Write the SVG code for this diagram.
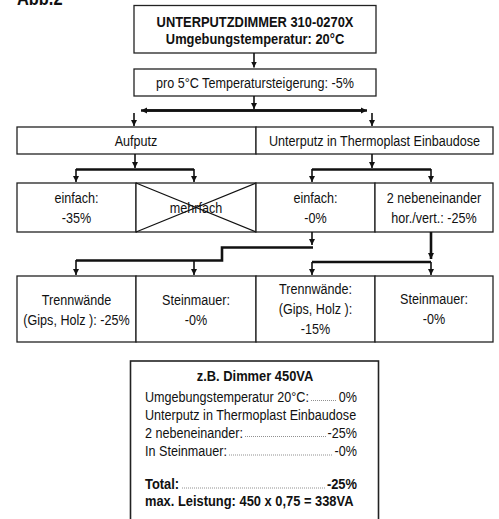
<svg xmlns="http://www.w3.org/2000/svg" width="499" height="519" viewBox="0 0 499 519">
<style>
text{font-family:"Liberation Sans",Arial,sans-serif;font-size:15px;fill:#111}
.c{text-anchor:middle}
.e{text-anchor:end}
.b{font-weight:bold}
.box{fill:#fff;stroke:#222;stroke-width:1.3}
.ar{fill:none;stroke:#111;stroke-width:1.6;marker-end:url(#ah)}
.th{fill:none;stroke:#111;stroke-width:2.6}
.dots{stroke:#333;stroke-width:0.8;stroke-dasharray:0.7 1.3}
</style>
<defs>
<marker id="ah" markerUnits="userSpaceOnUse" markerWidth="7" markerHeight="7" refX="6" refY="3.5" orient="auto-start-reverse">
<path d="M0,0.5 L6,3.5 L0,6.5 z" fill="#111"/>
</marker>
</defs>
<rect width="499" height="519" fill="#fff"/>
<text transform="translate(17,5) scale(.82,1)" class="b" style="font-size:20px">Abb.2</text>

<g id="n-dimmer">
<rect class="box" x="134" y="5.5" width="242" height="47.5"/>
<text transform="translate(255,27) scale(.86,1)" class="c b">UNTERPUTZDIMMER 310-0270X</text>
<text transform="translate(255,44) scale(.86,1)" class="c b">Umgebungstemperatur: 20°C</text>
</g>
<g id="n-temp">
<rect class="box" x="134" y="69" width="242" height="27"/>
<text transform="translate(255,88) scale(.84,1)" class="c">pro 5°C Temperatursteigerung: -5%</text>
</g>
<g id="n-aufputz">
<rect class="box" x="17" y="127" width="239" height="27"/>
<text transform="translate(136,146) scale(.84,1)" class="c">Aufputz</text>
</g>
<g id="n-unterputz">
<rect class="box" x="256" y="127" width="237" height="27"/>
<text transform="translate(374.5,146) scale(.84,1)" class="c">Unterputz in Thermoplast Einbaudose</text>
</g>
<g id="n-auf-einfach">
<rect class="box" x="17" y="183" width="119" height="49"/>
<text transform="translate(76.5,203) scale(.84,1)" class="c">einfach:</text>
<text transform="translate(76.5,223) scale(.84,1)" class="c">-35%</text>
</g>
<g id="n-auf-mehrfach">
<rect class="box" x="136" y="183" width="120" height="49"/>
<text transform="translate(196,213) scale(.84,1)" class="c">mehrfach</text>
<path d="M136,183 L256,232 M136,232 L256,183" stroke="#111" stroke-width="1.2"/>
</g>
<g id="n-unt-einfach">
<rect class="box" x="256" y="183" width="119" height="49"/>
<text transform="translate(315.5,203) scale(.84,1)" class="c">einfach:</text>
<text transform="translate(315.5,223) scale(.84,1)" class="c">-0%</text>
</g>
<g id="n-unt-2neben">
<rect class="box" x="375" y="183" width="118" height="49"/>
<text transform="translate(434,203) scale(.84,1)" class="c">2 nebeneinander</text>
<text transform="translate(434,223) scale(.84,1)" class="c">hor./vert.: -25%</text>
</g>
<g id="n-trenn1">
<rect class="box" x="17" y="276" width="119" height="66"/>
<text transform="translate(76.5,305) scale(.84,1)" class="c">Trennwände</text>
<text transform="translate(76.5,325) scale(.84,1)" class="c">(Gips, Holz ): -25%</text>
</g>
<g id="n-stein1">
<rect class="box" x="136" y="276" width="120" height="66"/>
<text transform="translate(196,305) scale(.84,1)" class="c">Steinmauer:</text>
<text transform="translate(196,325) scale(.84,1)" class="c">-0%</text>
</g>
<g id="n-trenn2">
<rect class="box" x="256" y="276" width="119" height="66"/>
<text transform="translate(315.5,294) scale(.84,1)" class="c">Trennwände:</text>
<text transform="translate(315.5,314) scale(.84,1)" class="c">(Gips, Holz ):</text>
<text transform="translate(315.5,334) scale(.84,1)" class="c">-15%</text>
</g>
<g id="n-stein2">
<rect class="box" x="375" y="276" width="118" height="66"/>
<text transform="translate(434,304) scale(.84,1)" class="c">Steinmauer:</text>
<text transform="translate(434,324) scale(.84,1)" class="c">-0%</text>
</g>

<g id="connectors">
<path class="ar" d="M254,53 V67.5"/>
<path class="ar" d="M254,96 V109"/>
<path class="th" d="M146,110.5 H362"/>
<path class="ar" style="marker-start:url(#ah);stroke-width:2.4" d="M141,110.5 H367"/>
<path class="ar" d="M134,113 V126"/>
<path class="ar" d="M372,113 V126"/>
<path class="ar" d="M135,154 V168"/>
<path class="th" d="M76,169.5 H194"/>
<path class="ar" d="M76,169 V182"/>
<path class="ar" d="M194,169 V182"/>
<path class="ar" d="M372,154 V168"/>
<path class="th" d="M312,169.5 H431"/>
<path class="ar" d="M312,169 V182"/>
<path class="ar" d="M431,169 V182"/>
<path class="ar" d="M312,232 V245"/>
<path class="th" d="M313,247.5 H222 V260.5 H76"/>
<path class="ar" d="M76,260 V275"/>
<path class="ar" d="M194,260 V275"/>
<path class="ar" style="stroke-width:2.6" d="M431,232 V259"/>
<path class="th" d="M312,262 H431"/>
<path class="ar" d="M312,262 V275"/>
<path class="ar" d="M431,262 V275"/>
</g>

<g id="n-example">
<rect class="box" x="130.5" y="361" width="248" height="170" style="stroke-width:1.6"/>
<text transform="translate(255,381) scale(.86,1)" class="c b">z.B. Dimmer 450VA</text>
<text transform="translate(145,401.5) scale(.84,1)">Umgebungstemperatur 20°C:</text>
<line class="dots" x1="311" y1="400.5" x2="336" y2="400.5"/>
<text transform="translate(357,401.5) scale(.84,1)" class="e">0%</text>
<text transform="translate(145,419.5) scale(.84,1)">Unterputz in Thermoplast Einbaudose</text>
<text transform="translate(145,437.5) scale(.84,1)">2 nebeneinander:</text>
<line class="dots" x1="245" y1="436.5" x2="326" y2="436.5"/>
<text transform="translate(357,437.5) scale(.84,1)" class="e">-25%</text>
<text transform="translate(145,456) scale(.84,1)">In Steinmauer:</text>
<line class="dots" x1="229" y1="455" x2="333" y2="455"/>
<text transform="translate(357,456) scale(.84,1)" class="e">-0%</text>
<text transform="translate(145,489) scale(.86,1)" class="b">Total:</text>
<line class="dots" x1="182" y1="488" x2="325" y2="488"/>
<text transform="translate(357,489) scale(.86,1)" class="e b">-25%</text>
<text transform="translate(145,506) scale(.86,1)" class="b">max. Leistung: 450 x 0,75 = 338VA</text>
</g>
</svg>
